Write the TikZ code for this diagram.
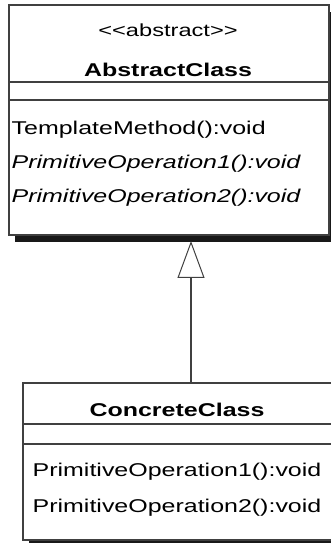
\documentclass[tikz,border=0pt]{standalone}
\usepackage{fontspec}
\setmainfont{Liberation Sans}[FakeStretch=1.35]
\usetikzlibrary{positioning, arrows.meta, calc, backgrounds}

\begin{document}
\begin{tikzpicture}[x=1pt, y=1pt, line width=1.3pt,
  comp/.style={draw=black!75, fill=white, minimum width=320pt, inner sep=0pt, outer sep=0pt, anchor=north west},
  stereo/.style={inner sep=0pt, anchor=base, font=\fontsize{17.5}{21}\selectfont},
  cname/.style={inner sep=0pt, anchor=base, font=\fontsize{18.5}{22}\selectfont\bfseries},
  op/.style={inner sep=0pt, anchor=base west, font=\fontsize{18.5}{22}\selectfont},
  shadow/.style={fill=black!90},
  inherit/.style={draw=black!75, -{Triangle[open, fill=white, length=37pt, width=27pt, line width=1pt]}}]
  \useasboundingbox (0,0) rectangle (330,543);
  % abstract class
  \node[comp, minimum height=77pt] (abshead) at (9,538) {};
  \node[comp, minimum height=18pt, below=0pt of abshead] (absattr) {};
  \node[comp, minimum height=135pt, below=0pt of absattr] (absops) {};
  \node[stereo] (absstereo) at ($(abshead.north)+(-1,-32)$) {<\kern0pt<abstract>\kern0pt>};
  \node[cname] (absname) at ($(abshead.south)+(-1,5)$) {AbstractClass};
  \node[op] (tmpl) at ($(absops.north west)+(2,-35)$) {TemplateMethod():void};
  \node[op] (absprim1) at ($(tmpl.base west)+(0,-34)$) {\itshape PrimitiveOperation1():void};
  \node[op] (absprim2) at ($(absprim1.base west)+(0,-34)$) {\itshape PrimitiveOperation2():void};
  % concrete class
  \node[comp, minimum width=312pt, minimum height=41pt] (conhead) at (23,160) {};
  \node[comp, minimum width=312pt, minimum height=20pt, below=0pt of conhead] (conattr) {};
  \node[comp, minimum width=312pt, minimum height=96pt, below=0pt of conattr] (conops) {};
  \node[cname] (conname) at ($(conhead.north)+(-2,-34)$) {ConcreteClass};
  \node[op] (conprim1) at ($(conops.north west)+(9,-33)$) {PrimitiveOperation1():void};
  \node[op] (conprim2) at ($(conprim1.base west)+(0,-36)$) {PrimitiveOperation2():void};
  % shadows
  \begin{scope}[on background layer]
    \fill[shadow] ($(abshead.north west)+(6,-7)$) rectangle ($(absops.south east)+(6,-7)$);
    \fill[shadow] ($(conhead.north west)+(6,-7)$) rectangle ($(conops.south east)+(6,-7)$);
  \end{scope}
  % generalisation
  \draw[inherit] ($(conhead.north west)+(168,0)$) -- ($(absops.south west)+(182,-6)$);
\end{tikzpicture}
\end{document}
